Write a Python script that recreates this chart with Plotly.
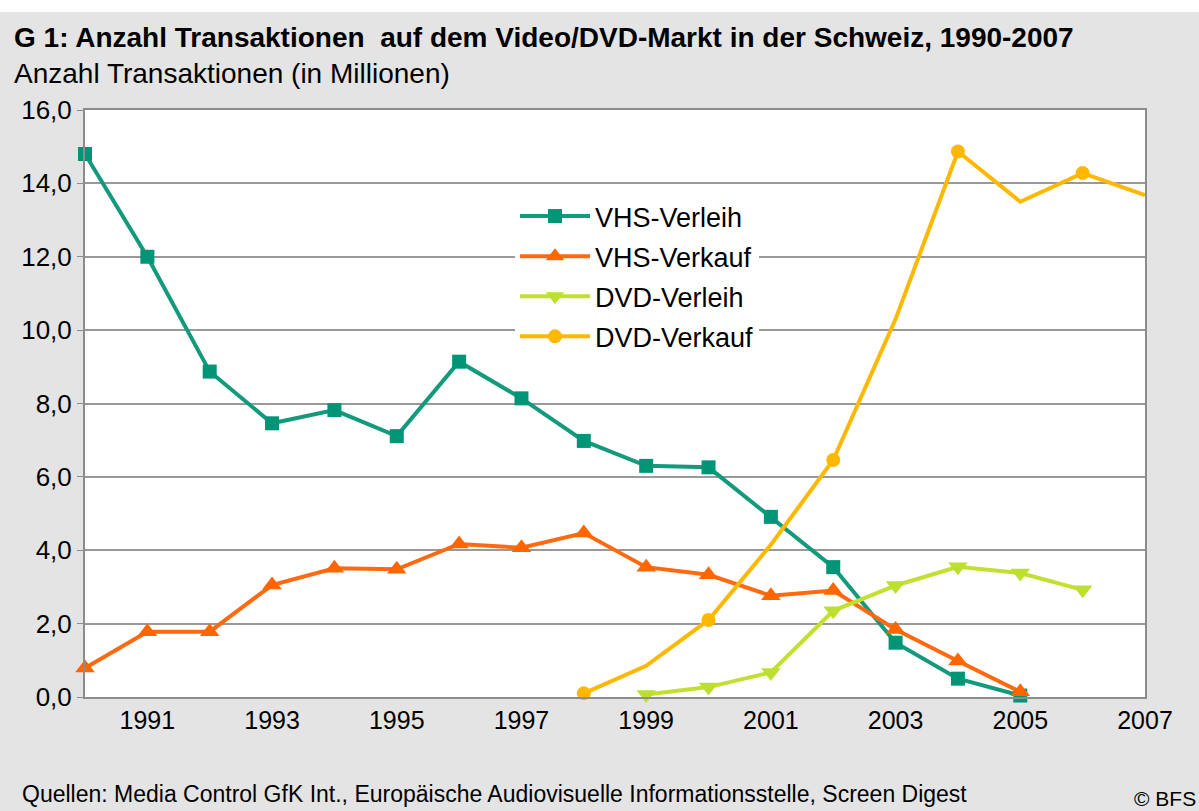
import plotly.graph_objects as go

years_vhs = list(range(1990, 2006))
vhs_verleih = [14.8, 12.0, 8.87, 7.46, 7.82, 7.11, 9.14, 8.14, 6.98, 6.30, 6.26, 4.91, 3.54, 1.48, 0.50, 0.04]
vhs_verkauf = [0.79, 1.78, 1.78, 3.05, 3.51, 3.48, 4.17, 4.07, 4.47, 3.54, 3.33, 2.76, 2.90, 1.84, 0.98, 0.14]

years_dvd_verleih = list(range(1999, 2007))
dvd_verleih = [0.07, 0.27, 0.67, 2.35, 3.04, 3.55, 3.38, 2.92]

years_dvd_verkauf = list(range(1998, 2008))
dvd_verkauf = [0.10, 0.85, 2.10, 4.15, 6.46, 10.3, 14.87, 13.50, 14.28, 13.68]

tick_years = list(range(1991, 2008, 2))
y_ticks = [0, 2, 4, 6, 8, 10, 12, 14, 16]

title = "G 1: Anzahl Transaktionen  auf dem Video/DVD-Markt in der Schweiz, 1990-2007"
subtitle = "Anzahl Transaktionen (in Millionen)"
source = "Quellen: Media Control GfK Int., Europäische Audiovisuelle Informationsstelle, Screen Digest"
copyright_txt = "© BFS"

FONT = "Liberation Sans, Arial, sans-serif"
C_TEAL = "#139a7d"
C_ORANGE = "#ff6a10"
C_GREEN = "#c2e030"
C_AMBER = "#ffb800"

# plot area in pixels
L, R, T, B = 85, 1145, 110, 697
W, H = R - L, B - T


def px(x):
    return (x - L) / W


def py(y):
    return (B - y) / H


fig = go.Figure()
fig.add_trace(go.Scatter(
    x=years_vhs, y=vhs_verleih, name="VHS-Verleih", mode="lines+markers",
    line=dict(color=C_TEAL, width=4),
    marker=dict(symbol="square", size=14, color="#009577"),
    legendgroup="a", cliponaxis=False))
fig.add_trace(go.Scatter(
    x=years_vhs, y=vhs_verkauf, name="VHS-Verkauf", mode="lines+markers",
    line=dict(color=C_ORANGE, width=4),
    marker=dict(symbol="triangle-up", size=17, color="#ff6600"),
    legendgroup="b", cliponaxis=False))
fig.add_trace(go.Scatter(
    x=years_dvd_verleih, y=dvd_verleih, name="DVD-Verleih", mode="lines+markers",
    line=dict(color=C_GREEN, width=4),
    marker=dict(symbol="triangle-down", size=17, color="#bde030"),
    legendgroup="c", cliponaxis=False))
fig.add_trace(go.Scatter(
    x=years_dvd_verkauf, y=dvd_verkauf, name="DVD-Verkauf", mode="lines+markers",
    line=dict(color=C_AMBER, width=4),
    marker=dict(symbol="circle", size=14,
                color=[C_AMBER if yr % 2 == 0 else "rgba(0,0,0,0)" for yr in years_dvd_verkauf],
                line=dict(width=0)),
    legendgroup="d", cliponaxis=False))

fig.update_layout(
    width=1199, height=811,
    paper_bgcolor="#e4e4e4", plot_bgcolor="white",
    margin=dict(l=L, r=1199 - R, t=T, b=811 - B),
    separators=",.",
    font=dict(family=FONT, size=22, color="black"),
    showlegend=True,
    legend=dict(x=px(515), y=py(192), xanchor="left", yanchor="top",
                bgcolor="white", font=dict(size=27, family=FONT),
                tracegroupgap=2, itemwidth=70),
    xaxis=dict(range=[1990, 2007], tickvals=tick_years, ticktext=[str(t) for t in tick_years],
               showgrid=False, zeroline=False, showline=True, linecolor="#8c8c8c",
               linewidth=2, mirror=True, ticks="", tickfont=dict(size=25, family=FONT)),
    yaxis=dict(range=[0, 16], tickvals=y_ticks, tickformat=".1f",
               showgrid=True, gridcolor="#999999", gridwidth=1.5, zeroline=False,
               showline=True, linecolor="#8c8c8c", linewidth=2, mirror=True,
               ticks="outside", ticklen=6, tickcolor="#8c8c8c",
               tickfont=dict(size=26, family=FONT)),
    shapes=[dict(type="rect", xref="paper", yref="paper",
                 x0=-0.1, x1=1.1, y0=py(12), y1=py(-10),
                 fillcolor="white", line=dict(width=0), layer="below")],
    annotations=[
        dict(text="<b>" + title + "</b>", xref="paper", yref="paper",
             x=px(12), y=py(38), xanchor="left", yanchor="middle",
             showarrow=False, font=dict(size=28, family=FONT)),
        dict(text=subtitle, xref="paper", yref="paper",
             x=px(12), y=py(74), xanchor="left", yanchor="middle",
             showarrow=False, font=dict(size=28, family=FONT)),
        dict(text=source, xref="paper", yref="paper",
             x=px(20), y=py(794), xanchor="left", yanchor="middle",
             showarrow=False, font=dict(size=23, family=FONT)),
        dict(text=copyright_txt, xref="paper", yref="paper",
             x=px(1198), y=py(798), xanchor="right", yanchor="middle",
             showarrow=False, font=dict(size=21, family=FONT)),
    ],
)

fig.write_html("out.html", config={"displayModeBar": False},
               post_script="document.body.style.margin='0';")
